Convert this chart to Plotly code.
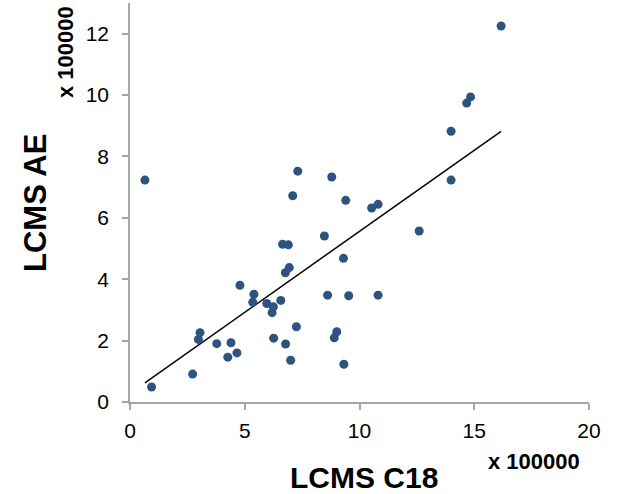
import numpy as np
import plotly.graph_objects as go

# LCMS C18 (x 100000) and LCMS AE (x 100000)
lcms_c18 = [0.65, 0.94, 2.73, 2.98, 3.05, 3.78, 4.26, 4.40, 4.66, 4.79,
            5.35, 5.40, 5.96, 6.19, 6.25, 6.57, 6.26, 6.65, 6.90, 6.77,
            6.94, 6.78, 7.00, 7.09, 7.25, 7.31, 8.47, 8.61, 8.79, 8.90,
            9.01, 9.30, 9.32, 9.40, 9.53, 10.53, 10.81, 10.81, 12.60, 13.99,
            13.99, 14.67, 14.84, 16.17]
lcms_ae = [7.23, 0.49, 0.91, 2.04, 2.26, 1.90, 1.46, 1.93, 1.60, 3.80,
           3.25, 3.51, 3.21, 2.91, 3.10, 3.31, 2.08, 5.14, 5.12, 4.21,
           4.38, 1.89, 1.36, 6.72, 2.45, 7.52, 5.41, 3.48, 7.33, 2.09,
           2.29, 4.68, 1.23, 6.57, 3.46, 6.32, 6.44, 3.48, 5.57, 8.82,
           7.23, 9.74, 9.94, 12.25]

x_ticks = [0, 5, 10, 15, 20]
y_ticks = [0, 2, 4, 6, 8, 10, 12]

x = np.array(lcms_c18)
y = np.array(lcms_ae)
slope, intercept = np.polyfit(x, y, 1)
fit_x = np.array([x.min(), x.max()])
fit_y = slope * fit_x + intercept

W, H = 644, 494
L, R, T, B = 130, 55, 3, 92
pw, ph = W - L - R, H - T - B

def px(xp):
    return (xp - L) / pw

def py(yp):
    return (H - B - yp) / ph

fig = go.Figure()
fig.add_trace(go.Scatter(x=fit_x, y=fit_y, mode="lines",
                         line=dict(color="black", width=1.5),
                         showlegend=False, hoverinfo="skip"))
fig.add_trace(go.Scatter(x=lcms_c18, y=lcms_ae, mode="markers",
                         marker=dict(color="#2D5380", size=9,
                                     line=dict(width=0)),
                         showlegend=False))

axis_common = dict(showgrid=False, zeroline=False, showline=True,
                   linecolor="#A6A6A6", linewidth=1.5,
                   ticks="outside", tickcolor="#A6A6A6", ticklen=6,
                   tickwidth=1.5,
                   tickfont=dict(family="Liberation Sans, Arial", size=21,
                                 color="black"))

fig.update_xaxes(range=[0, 20], tickvals=x_ticks, ticktext=[str(v) for v in x_ticks],
                 ticklabelstandoff=3, **axis_common)
fig.update_yaxes(range=[0, 13], tickvals=y_ticks, ticktext=[str(v) for v in y_ticks],
                 ticklabelstandoff=9, **axis_common)

bold = dict(family="Liberation Sans, Arial", color="black")
ann = dict(xref="paper", yref="paper", showarrow=False,
           xanchor="center", yanchor="middle")
fig.add_annotation(text="<b>LCMS C18</b>", x=px(364), y=py(477),
                   font=dict(size=30, **bold), **ann)
fig.add_annotation(text="<b>LCMS AE</b>", x=px(35), y=py(203), textangle=-90,
                   font=dict(size=31, **bold), **ann)
fig.add_annotation(text="<b>x 100000</b>", x=px(534), y=py(461),
                   font=dict(size=22, **bold), **ann)
fig.add_annotation(text="<b>x 100000</b>", x=px(65), y=py(52), textangle=-90,
                   font=dict(size=22, **bold), **ann)

fig.update_layout(width=W, height=H, margin=dict(l=L, r=R, t=T, b=B),
                  plot_bgcolor="white", paper_bgcolor="white")

fig.write_html("out.html", config={"displayModeBar": False},
               post_script="document.body.style.margin='0';document.body.style.overflow='hidden';")
